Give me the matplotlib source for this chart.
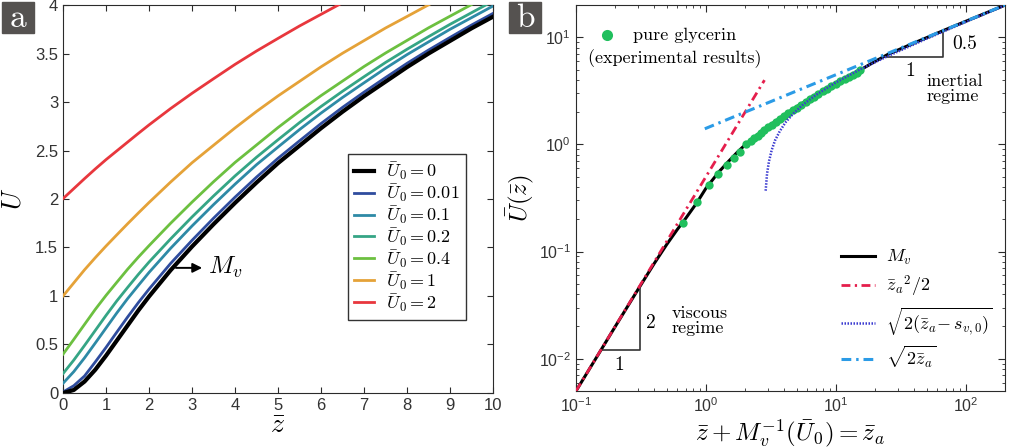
import matplotlib
matplotlib.use('Agg')
import matplotlib.pyplot as plt
from matplotlib.ticker import FormatStrFormatter, MultipleLocator, LogLocator, NullFormatter
from matplotlib.patches import Rectangle

plt.rcParams['font.family'] = ['Liberation Sans', 'DejaVu Sans']
plt.rcParams['mathtext.fontset'] = 'cm'
plt.rcParams['axes.edgecolor'] = '#2b2b2b'
plt.rcParams['xtick.color'] = '#2b2b2b'
plt.rcParams['ytick.color'] = '#2b2b2b'

# ---------------- panel a data ----------------
z_grid = [0, 0.25, 0.5, 0.75, 1, 1.25, 1.5, 1.75, 2, 2.5, 3, 3.5, 4, 4.5, 5,
          5.5, 6, 6.5, 7, 7.5, 8, 8.5, 9, 9.5, 10]

U_0 = [0, 0.031, 0.118, 0.24, 0.385, 0.54, 0.695, 0.85, 0.995, 1.265, 1.51, 1.74, 1.96,
       2.17, 2.37, 2.55, 2.73, 2.90, 3.06, 3.21, 3.36, 3.50, 3.63, 3.76, 3.88]
U_001 = [0.01, 0.075, 0.175, 0.32, 0.47, 0.627, 0.782, 0.931, 1.071, 1.335, 1.574, 1.802,
         2.019, 2.226, 2.42, 2.60, 2.778, 2.945, 3.102, 3.252, 3.399, 3.536, 3.666, 3.794, 3.914]
U_01 = [0.10, 0.220, 0.362, 0.515, 0.670, 0.825, 0.972, 1.108, 1.243, 1.491, 1.722, 1.942,
        2.153, 2.354, 2.536, 2.716, 2.886, 3.047, 3.198, 3.348, 3.489, 3.620, 3.750, 3.870, 3.990]
U_02 = [0.20, 0.339, 0.490, 0.645, 0.800, 0.949, 1.087, 1.222, 1.350, 1.588, 1.815, 2.031,
        2.238, 2.431, 2.611, 2.788, 2.954, 3.111, 3.261, 3.408, 3.544, 3.674, 3.801, 3.921, 4.041]
U_04 = [0.40, 0.552, 0.707, 0.862, 1.006, 1.141, 1.275, 1.400, 1.519, 1.749, 1.968, 2.178,
        2.377, 2.557, 2.737, 2.906, 3.066, 3.216, 3.366, 3.505, 3.635, 3.765, 3.885, 4.005, 4.125]
U_1 = [1.0, 1.135, 1.27, 1.395, 1.515, 1.63, 1.744, 1.855, 1.964, 2.174, 2.374, 2.554,
       2.733, 2.903, 3.063, 3.213, 3.363, 3.503, 3.633, 3.763, 3.882, 4.002, 4.122, 4.232, 4.342]
U_2 = [2.004, 2.107, 2.21, 2.31, 2.406, 2.496, 2.586, 2.676, 2.764, 2.932, 3.09, 3.24,
       3.388, 3.526, 3.656, 3.784, 3.904, 4.024, 4.14, 4.25, 4.36, 4.47, 4.58, 4.68, 4.78]

curve_labels = ['0', '0.01', '0.1', '0.2', '0.4', '1', '2']
curve_values = [U_0, U_001, U_01, U_02, U_04, U_1, U_2]
curve_colors = ['black', '#2f4c9e', '#2e8aa6', '#35a585', '#6cc040', '#e5a238', '#e8373d']

# ---------------- panel b data ----------------
za_model = [0.1, 0.15, 0.2, 0.3, 0.4, 0.5, 0.6, 0.7, 0.85, 1.0, 1.25, 1.5, 1.75, 2.0,
            2.5, 3, 4, 5, 6.5, 8, 10, 13, 15.3, 20, 25, 40, 70, 120, 200]
U_model = [0.005, 0.0112, 0.0199, 0.0443, 0.0775, 0.117, 0.16, 0.205, 0.285, 0.39, 0.55,
           0.70, 0.85, 0.99, 1.23, 1.46, 1.88, 2.25, 2.73, 3.18, 3.72, 4.42, 4.93, 5.95,
           6.9, 8.85, 11.8, 15.45, 19.95]

za_visc = [0.1, 2.82]
U_visc = [0.005, 3.98]

za_inert = [0.98, 200]
U_inert = [1.40, 20.0]

za_shift = [2.88, 2.95, 3.05, 3.2, 3.4, 3.7, 4.1, 4.7, 5.5, 7, 10, 15, 25, 50, 100, 200]
U_shift = [0.37, 0.53, 0.69, 0.88, 1.09, 1.33, 1.61, 1.94, 2.32, 2.89, 3.79, 4.94,
           6.66, 9.71, 13.94, 19.86]

za_exp = [0.668, 0.857, 1.055, 1.244, 1.44, 1.64, 1.83, 2.02,
          2.21, 2.35, 2.5, 2.65, 2.8, 3.0, 3.2, 3.45, 3.7, 4.0, 4.3, 4.65, 5.0, 5.4,
          5.85, 6.3, 6.8, 7.3, 7.9, 8.5, 9.2, 10.0, 10.8, 11.7, 12.6, 13.5, 14.4, 15.3]
U_exp = [0.185, 0.289, 0.417, 0.525, 0.641, 0.75, 0.854, 1.0,
         1.08, 1.14, 1.21, 1.28, 1.35, 1.44, 1.53, 1.63, 1.73, 1.85, 1.96, 2.09, 2.21, 2.35,
         2.50, 2.65, 2.80, 2.96, 3.13, 3.30, 3.48, 3.68, 3.88, 4.08, 4.29, 4.49, 4.69, 4.90]

tri_visc_x = [0.155, 0.31, 0.31]
tri_visc_y = [0.012, 0.012, 0.048]
tri_inert_x = [24, 67, 67]
tri_inert_y = [6.5, 6.5, 10.86]

fig = plt.figure(figsize=(10.2, 4.48), dpi=100)
ax1 = fig.add_axes([0.0618, 0.1228, 0.4216, 0.866])
ax2 = fig.add_axes([0.5647, 0.1272, 0.4206, 0.8616])

# ---------------- panel a ----------------
for lab, vals, col in zip(curve_labels, curve_values, curve_colors):
    lw = 3.0 if col == 'black' else 2.0
    zo = 4 if col == 'black' else 3
    ax1.plot(z_grid, vals, color=col, lw=lw, zorder=zo,
             label=r'$\bar{U}_0 = %s$' % lab)

ax1.set_xlim(0, 10)
ax1.set_ylim(0, 4)
ax1.xaxis.set_major_locator(MultipleLocator(1))
ax1.yaxis.set_major_locator(MultipleLocator(0.5))
ax1.yaxis.set_major_formatter(FormatStrFormatter('%g'))
ax1.tick_params(direction='in', top=True, right=True, length=4, labelsize=12,
                labelcolor='#333333')
ax1.set_xlabel(r'$\bar{z}$', fontsize=20, labelpad=0)
ax1.set_ylabel(r'$\bar{U}$', fontsize=19)
ax1.yaxis.set_label_coords(-0.085, 0.5)

leg1 = ax1.legend(loc='lower left', bbox_to_anchor=(0.663, 0.188), borderaxespad=0,
                  fontsize=13, handlelength=1.1, handletextpad=0.65, labelspacing=0.0,
                  borderpad=0.35, frameon=True, fancybox=False, edgecolor='black')
leg1.get_frame().set_linewidth(1.0)

ax1.annotate('', xy=(3.3, 1.29), xytext=(2.56, 1.29),
             arrowprops=dict(arrowstyle='-|>', color='black', lw=1.4, mutation_scale=14))
ax1.text(3.38, 1.29, r'$M_v$', fontsize=18, va='center', ha='left')

# ---------------- panel b ----------------
ax2.set_xscale('log')
ax2.set_yscale('log')
h_mv, = ax2.plot(za_model, U_model, color='black', lw=2.2, zorder=2, label=r'$M_v$')
ax2.plot(za_exp, U_exp, 'o', color='#20bf5d', ms=6, mec='none', zorder=3)
h_sh, = ax2.plot(za_shift, U_shift, color='#3b3bd0', lw=1.8, ls=(0, (0.6, 0.6)), zorder=4,
                 label=r'$\sqrt{2(\bar{z}_a\!-s_{v,0})}$')
h_vi, = ax2.plot(za_visc, U_visc, color='#e51e4c', lw=2.0, ls=(0, (3.2, 1.6, 0.8, 1.6)),
                 zorder=5, label=r'$\bar{z}_a{}^2/2$')
h_in, = ax2.plot(za_inert, U_inert, color='#2b9be6', lw=2.2, ls=(0, (3.2, 1.6, 0.8, 1.6)),
                 zorder=6, label=r'$\sqrt{2\bar{z}_a}$')

ax2.plot(tri_visc_x, tri_visc_y, color='#333333', lw=1.2)
ax2.plot(tri_inert_x, tri_inert_y, color='#333333', lw=1.2)

ax2.set_xlim(0.1, 200)
ax2.set_ylim(0.005, 20)
ax2.xaxis.set_major_locator(LogLocator(base=10, numticks=10))
ax2.xaxis.set_minor_locator(LogLocator(base=10, subs=range(2, 10), numticks=20))
ax2.xaxis.set_minor_formatter(NullFormatter())
ax2.yaxis.set_minor_formatter(NullFormatter())
ax2.tick_params(which='both', direction='in', top=True, right=True, labelsize=11.5,
                labelcolor='#333333')
ax2.tick_params(which='major', length=5)
ax2.tick_params(which='minor', length=2.5)
ax2.set_xlabel(r'$\bar{z} + M_v^{-1}(\bar{U}_0) = \bar{z}_a$', fontsize=18, labelpad=2)
ax2.set_ylabel(r'$\bar{U}(\bar{z})$', fontsize=18, labelpad=2)

leg2 = ax2.legend(handles=[h_mv, h_vi, h_sh, h_in], loc='lower left',
                  bbox_to_anchor=(0.6, 0.035), borderaxespad=0, frameon=False,
                  fontsize=13, handlelength=1.9, handletextpad=0.6, labelspacing=0.35)

# experimental legend entry
ax2.plot([0.072], [0.922], 'o', color='#20bf5d', ms=8, mec='none',
         transform=ax2.transAxes, clip_on=False)
ax2.text(0.133, 0.922, 'pure glycerin', fontfamily='cmr10', fontsize=13,
         transform=ax2.transAxes, va='center', ha='left')
ax2.text(0.231, 0.862, '(experimental results)', fontfamily='cmr10', fontsize=13,
         transform=ax2.transAxes, va='center', ha='center')

# slope annotations
ax2.text(0.215, 0.0088, '1', fontfamily='cmr10', fontsize=14, ha='center', va='center')
ax2.text(0.375, 0.0215, '2', fontfamily='cmr10', fontsize=14, ha='center', va='center')
ax2.text(0.545, 0.0225, 'viscous\nregime', fontfamily='cmr10', fontsize=13,
         ha='left', va='center', linespacing=0.95)
ax2.text(37, 4.8, '1', fontfamily='cmr10', fontsize=14, ha='center', va='center')
ax2.text(98, 8.6, '0.5', fontfamily='cmr10', fontsize=14, ha='center', va='center')
ax2.text(50, 3.3, 'inertial\nregime', fontfamily='cmr10', fontsize=13,
         ha='left', va='center', linespacing=0.95)

# panel letters
for x0, letter in [(2, 'a'), (509, 'b')]:
    fig.add_artist(Rectangle((x0 / 1020, 1 - 33 / 448), 32 / 1020, 31 / 448,
                             transform=fig.transFigure, color='#555250', zorder=10))
    fig.text((x0 + 16) / 1020, 1 - 18 / 448, letter, fontfamily='cmr10', fontsize=24,
             color='white', ha='center', va='center', zorder=11)

fig.savefig('out.png', dpi=100)
